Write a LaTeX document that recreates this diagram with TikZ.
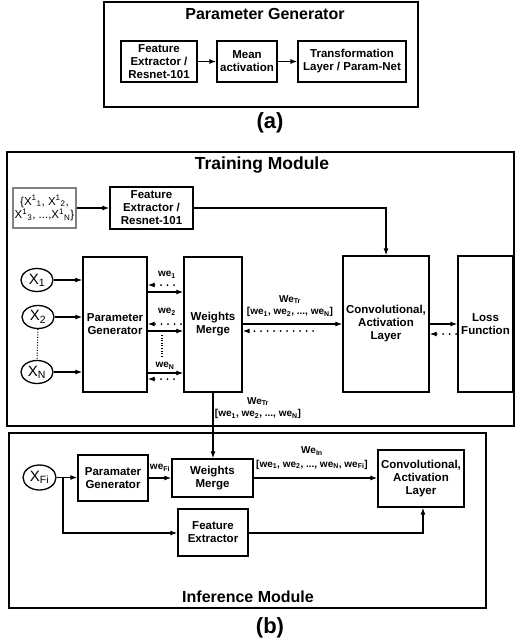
\documentclass[tikz,border=0pt]{standalone}
\usepackage{fontspec}
\setmainfont{Liberation Sans}
\usetikzlibrary{arrows.meta,shapes.geometric}
\newcommand{\sbs}[1]{\textsubscript{#1}}
\newcommand{\xsup}[1]{X\textsuperscript{1}\textsubscript{#1}}
\begin{document}
\begin{tikzpicture}[x=1pt,y=-1pt,
 box/.style={draw, line width=1.3pt, align=center, font=\bfseries\fontsize{11.5}{13}\selectfont, inner sep=1pt},
 frame/.style={draw, line width=2pt, inner sep=0pt},
 arr/.style={-{Latex[length=7pt,width=5pt]}, line width=1.2pt},
 dotarr/.style={-{Latex[length=7pt,width=5pt]}, line width=2pt, line cap=round, dash pattern=on 0pt off 6.5pt},
 fine/.style={line width=1.1pt, dash pattern=on 1pt off 1.6pt},
 lab/.style={font=\bfseries\fontsize{10}{11.5}\selectfont, inner sep=0pt, align=center},
 xin/.style={draw, ellipse, line width=1.3pt, minimum width=32pt, minimum height=23pt, inner sep=0pt, font=\fontsize{15}{17}\selectfont},
 modtitle/.style={font=\bfseries\fontsize{17.5}{19}\selectfont, inner sep=0pt},
 figcap/.style={font=\bfseries\fontsize{22}{24}\selectfont, inner sep=0pt}]
\useasboundingbox (0,0) rectangle (515,642);

% ---------- (a) ----------
\node[frame, minimum width=314pt, minimum height=105pt] (pgframe) at (261,54.5) {};
\node[modtitle, font=\bfseries\fontsize{16}{18}\selectfont] (pgtitle) at (265,14) {Parameter Generator};
\node[box, minimum width=76pt, minimum height=41pt] (fea) at (159,61.5) {Feature\\Extractor /\\Resnet-101};
\node[box, minimum width=60pt, minimum height=41pt] (mean) at (247,61.5) {Mean\\activation};
\node[box, minimum width=108pt, minimum height=41pt] (trans) at (352,61.5) {Transformation\\Layer / Param-Net};
\draw[arr] (fea) -- (mean);
\draw[arr] (mean) -- (trans);
\node[figcap] (capa) at (270,123) {(a)};

% ---------- Training module ----------
\node[frame, minimum width=507pt, minimum height=274pt] (tframe) at (260.5,289) {};
\node[modtitle] (ttitle) at (262,165) {Training Module};
\node[draw=gray, line width=1.3pt, minimum width=63pt, minimum height=40pt, inner sep=0pt, align=center, font=\fontsize{11.5}{13.5}\selectfont] (set) at (44.5,208) {\{\xsup{1}, \xsup{2},\\\xsup{3}, ...,\xsup{N}\}};
\node[box, minimum width=83pt, minimum height=42pt] (fet) at (151.5,208) {Feature\\Extractor /\\Resnet-101};
\node[box, minimum width=64pt, minimum height=135pt] (pg) at (115,324.5) {Parameter\\Generator};
\node[box, minimum width=58pt, minimum height=135pt] (wm) at (213,324.5) {Weights\\Merge};
\node[box, minimum width=86pt, minimum height=136pt] (conv) at (386,324) {Convolutional,\\Activation\\Layer};
\node[box, minimum width=55pt, minimum height=136pt] (loss) at (485.5,324) {Loss\\Function};
\node[xin] (x1) at (37,280) {X\sbs{1}};
\node[xin] (x2) at (38,317) {X\sbs{2}};
\node[xin] (xn) at (37,372) {X\sbs{N}};

\draw[arr] (set) -- (fet);
\coordinate (fc) at (386,208);
\draw[arr] (fet.east) -- (fc) -- (conv.north);
\draw[arr] (x1.east) -- (x1.east -| pg.west);
\draw[arr] (x2.east) -- (x2.east -| pg.west);
\draw[arr] (xn.east) -- (xn.east -| pg.west);
\draw[fine] (x2.south) -- (xn.north);

% we_1
\coordinate (d1) at (174,285);
\draw[dotarr] (d1) -- (d1 -| pg.east);
\coordinate (s1) at (147,292);
\draw[arr] (s1) -- (s1 -| wm.west);
\node[lab] (l1) at (167,275) {we\sbs{1}};
% we_2
\coordinate (d2) at (181,324);
\draw[dotarr] (d2) -- (d2 -| pg.east);
\coordinate (s2) at (147,331);
\draw[arr] (s2) -- (s2 -| wm.west);
\node[lab] (l2) at (167,312) {we\sbs{2}};
\coordinate (v1) at (162,335);
\coordinate (v2) at (162,357);
\draw[fine] (v1) -- (v2);
% we_N
\coordinate (sn) at (147,373);
\draw[arr] (sn) -- (sn -| wm.west);
\coordinate (dn) at (174,379);
\draw[dotarr] (dn) -- (dn -| pg.east);
\node[lab] (ln) at (165,366) {we\sbs{N}};

% WM <-> Conv
\coordinate (wc) at (242,324);
\draw[arr] (wc) -- (wc -| conv.west);
\coordinate (wd) at (313,331);
\draw[dotarr] (wd) -- (wd -| wm.east);
\node[lab] (wtr) at (290,306) {We\sbs{Tr}\\[1pt][we\sbs{1}, we\sbs{2}, ..., we\sbs{N}]};
% Conv <-> Loss
\coordinate (cl) at (429,324);
\draw[arr] (cl) -- (cl -| loss.west);
\coordinate (ld) at (456,334);
\draw[dotarr] (ld) -- (ld -| conv.east);

% ---------- Inference module ----------
\node[frame, minimum width=477pt, minimum height=175pt] (iframe) at (247.5,520.5) {};
\node[xin, minimum width=33pt, minimum height=25pt] (xfi) at (39.5,477.5) {X\sbs{Fi}};
\node[box, minimum width=70pt, minimum height=46pt] (pgi) at (113,478) {Paramater\\Generator};
\node[box, minimum width=81pt, minimum height=38pt] (wmi) at (212.5,478) {Weights\\Merge};
\node[box, minimum width=86pt, minimum height=57pt] (convi) at (421,478.5) {Convolutional,\\Activation\\Layer};
\node[box, minimum width=70pt, minimum height=47pt] (fei) at (213,532.5) {Feature\\Extractor};

\draw[arr] (wm.south) -- (wm.south |- wmi.north);
\node[lab] (wtr2) at (258,408) {We\sbs{Tr}\\[1pt][we\sbs{1}, we\sbs{2}, ..., we\sbs{N}]};

\draw[arr] (xfi.east) -- (xfi.east -| pgi.west);
\coordinate (br) at (63,477.5);
\coordinate (bd) at (63,533);
\draw[arr] (br) -- (bd) -- (fei.west |- bd);
\coordinate (fu) at (423,533);
\draw[arr] (fei.east |- fu) -- (fu) -- (fu |- convi.south);
\draw[arr] (pgi) -- (wmi);
\node[lab] (lfi) at (160,468) {we\sbs{Fi}};
\draw[arr] (wmi.east) -- (wmi.east -| convi.west);
\node[lab] (win) at (312,458) {We\sbs{In}\\[2pt][we\sbs{1}, we\sbs{2}, ..., we\sbs{N}, we\sbs{Fi}]};

\node[modtitle, font=\bfseries\fontsize{16}{18}\selectfont] (ititle) at (248,597) {Inference Module};
\node[figcap] (capb) at (270,628) {(b)};
\end{tikzpicture}
\end{document}
